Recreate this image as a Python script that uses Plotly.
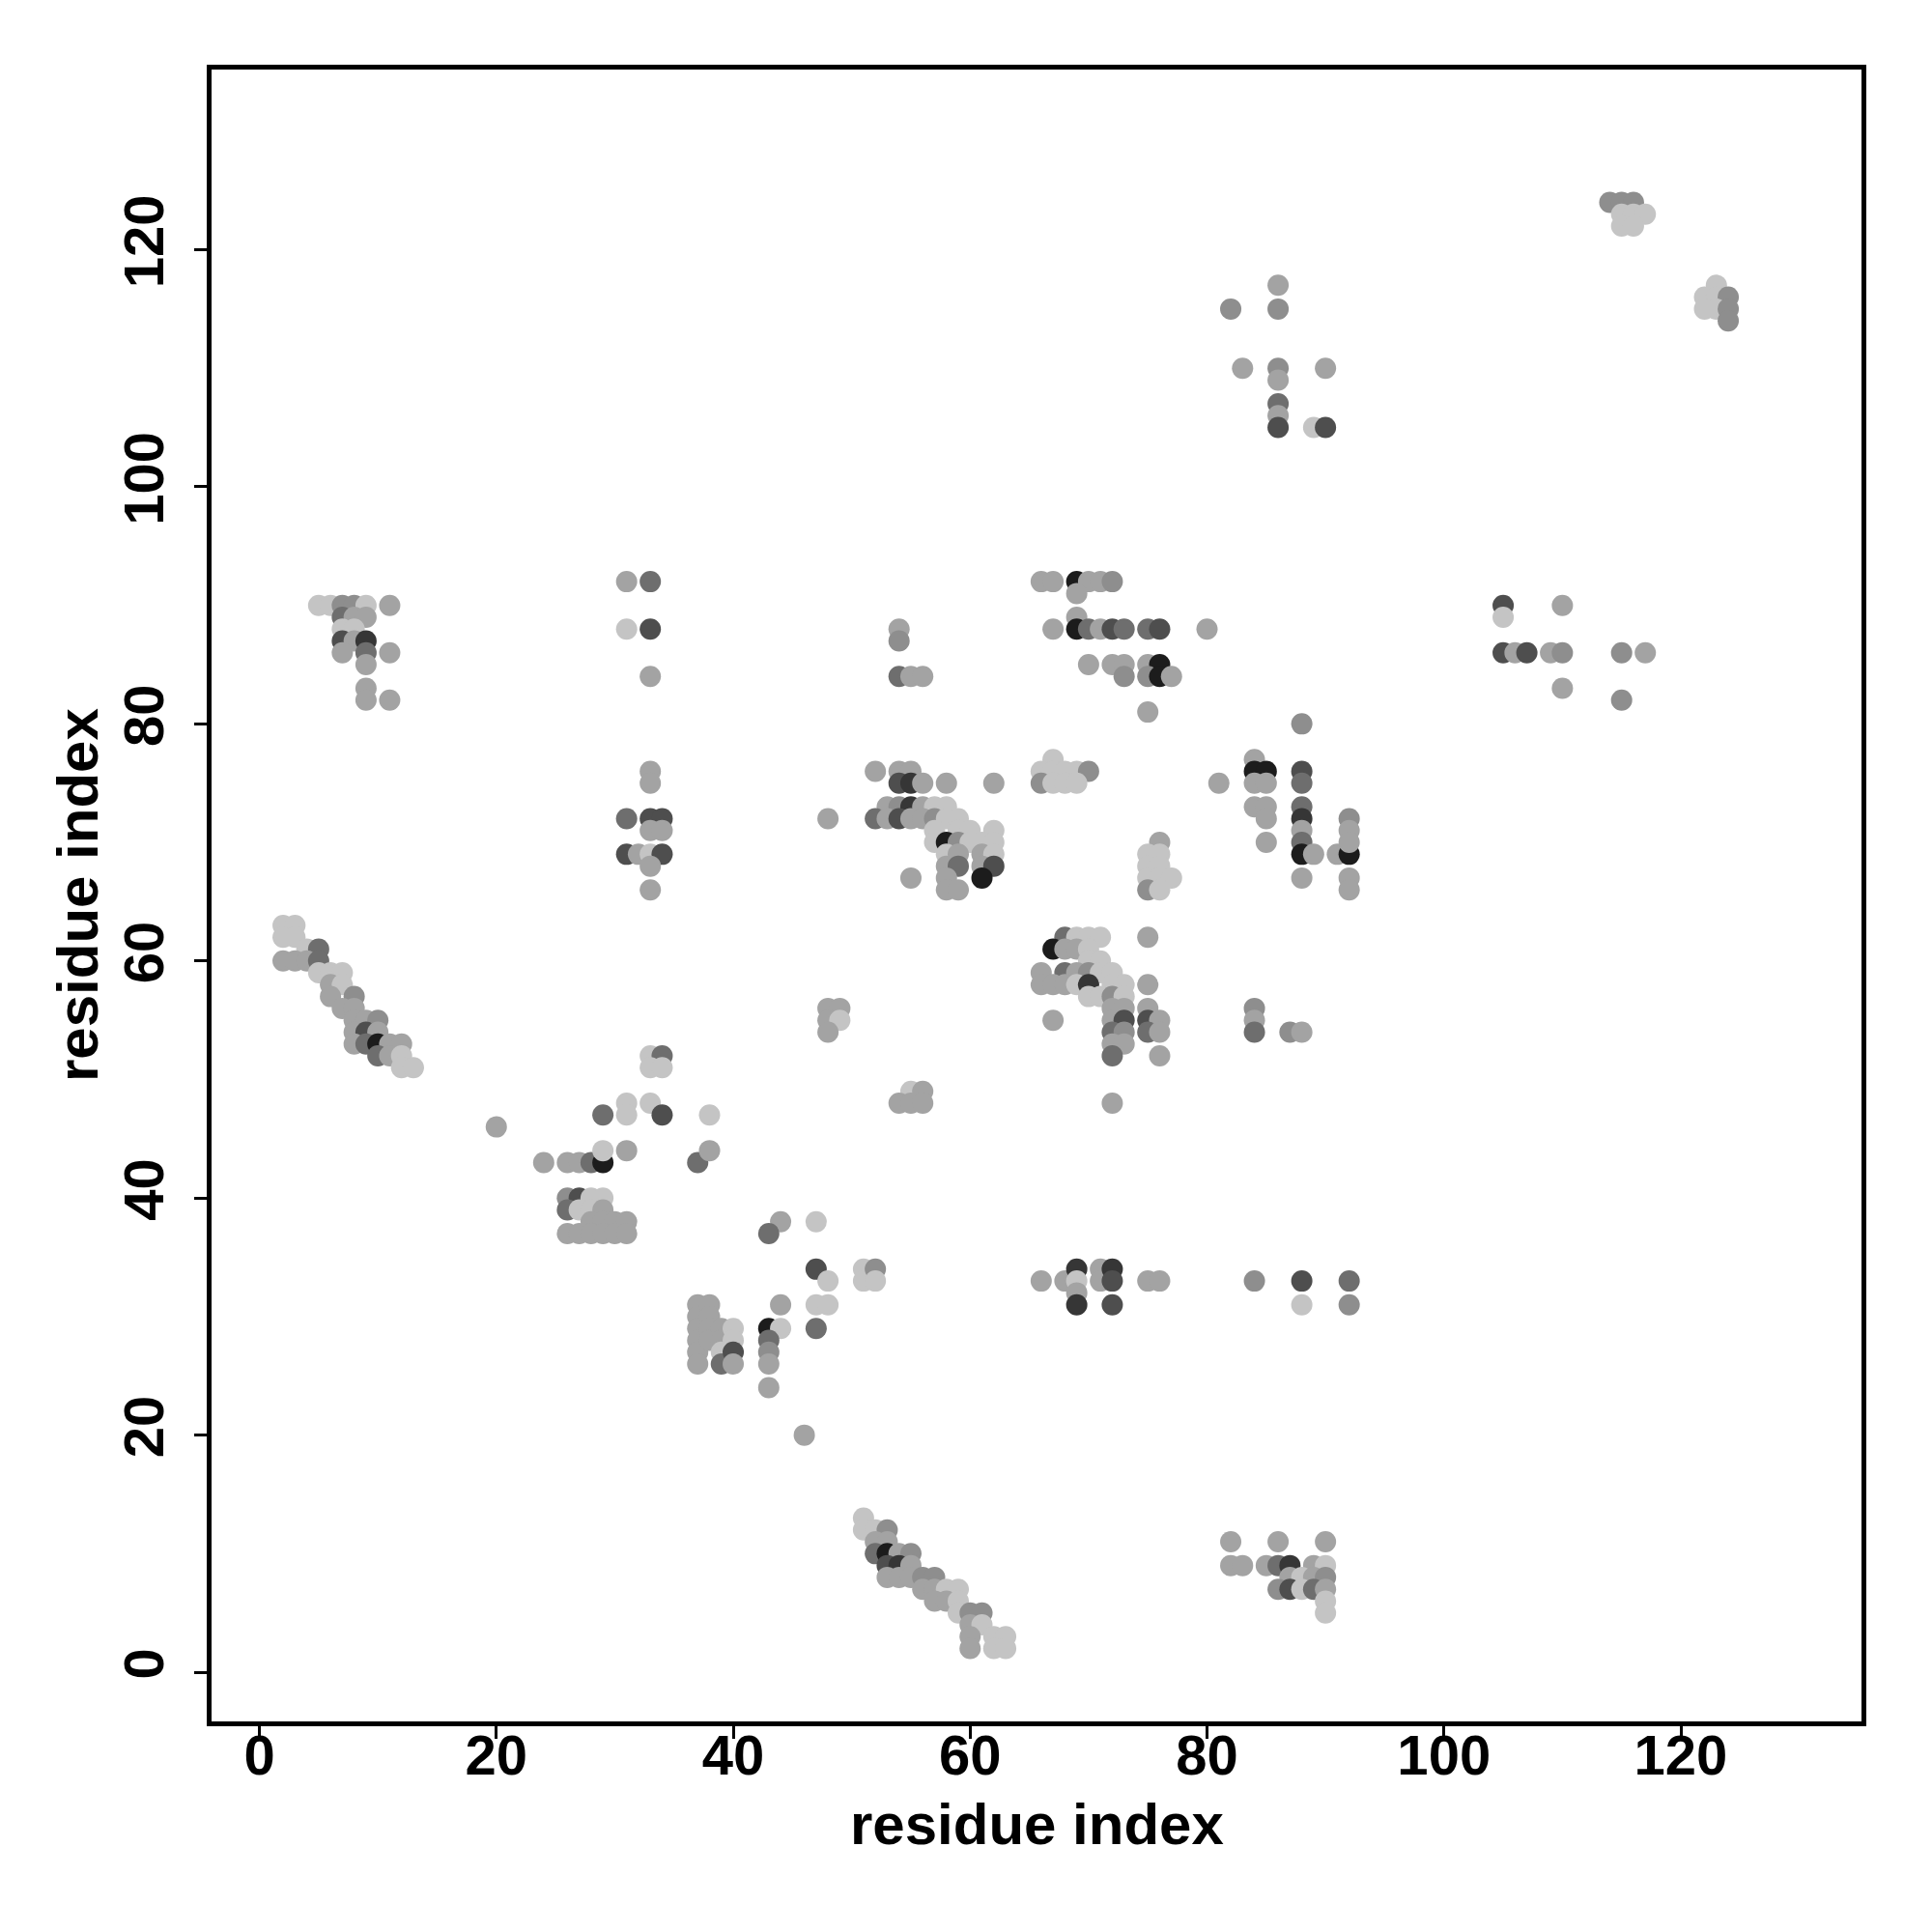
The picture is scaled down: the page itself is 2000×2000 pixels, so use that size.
import plotly.graph_objects as go

# ---------------- data ----------------
tick_values = [0, 20, 40, 60, 80, 100, 120]
axis_title = "residue index"

# shade code -> grey colour
shade_colors = {
    "L": "#c4c4c4", "M": "#a3a3a3", "N": "#8e8e8e", "D": "#6e6e6e",
    "E": "#4e4e4e", "F": "#363636", "B": "#1c1c1c",
}

# (residue i, residue j, shade)
cluster_a = [(5,90,"L"),(6,90,"L"),(7,90,"N"),(8,90,"N"),(9,90,"L"),(11,90,"M"),
             (7,89,"D"),(8,89,"M"),(9,89,"M"),(7,88,"L"),(8,88,"L"),
             (7,87,"E"),(8,87,"M"),(9,87,"F"),(7,86,"M"),(9,86,"D"),(11,86,"M"),
             (9,85,"M"),(9,83,"M"),(9,82,"M"),(11,82,"M")]

cluster_b = [(2,63,"L"),(3,63,"L"),(2,62,"L"),(3,62,"L"),(4,61,"L"),(5,61,"D"),
             (2,60,"M"),(3,60,"M"),(4,60,"M"),(5,60,"D"),(5,59,"L"),(6,59,"L"),(7,59,"L"),
             (6,58,"M"),(7,58,"L"),(6,57,"M"),(8,57,"N"),(7,56,"M"),(8,56,"M"),
             (8,55,"M"),(9,55,"M"),(10,55,"N"),(8,54,"M"),(9,54,"E"),(10,54,"M"),
             (8,53,"M"),(9,53,"D"),(10,53,"B"),(11,53,"M"),(12,53,"M"),
             (10,52,"D"),(11,52,"M"),(12,52,"L"),(12,51,"L"),(13,51,"L")]

cluster_c = [(20,46,"M"),(29,47,"D"),(31,48,"L"),(31,47,"L"),(33,48,"L"),(34,47,"E"),(38,47,"L"),
             (33,52,"L"),(34,52,"D"),(33,51,"L"),(34,51,"L"),
             (24,43,"M"),(26,43,"M"),(27,43,"M"),(28,43,"D"),(29,43,"B"),(29,44,"L"),(31,44,"M"),
             (37,43,"D"),(38,44,"M"),
             (26,40,"N"),(27,40,"E"),(28,40,"L"),(29,40,"L"),
             (26,39,"D"),(27,39,"L"),(28,39,"L"),(29,39,"M"),
             (28,38,"M"),(29,38,"M"),(30,38,"M"),(31,38,"M"),
             (26,37,"M"),(27,37,"M"),(28,37,"M"),(29,37,"M"),(30,37,"M"),(31,37,"M"),
             (44,38,"M"),(43,37,"D"),(47,38,"L"),
             (47,34,"E"),(48,33,"L"),(51,34,"L"),(51,33,"L"),(52,34,"N"),(52,33,"L"),
             (44,31,"M"),(47,31,"L"),(48,31,"L"),(43,29,"B"),(44,29,"L"),(47,29,"D"),
             (43,28,"D"),(43,27,"N"),(43,26,"M"),(43,24,"M"),(46,20,"M"),
             (37,31,"M"),(37,30,"M"),(37,29,"M"),(37,28,"M"),(37,27,"M"),(37,26,"M"),
             (38,31,"M"),(38,30,"M"),(38,29,"M"),(38,28,"M"),
             (39,29,"M"),(39,28,"M"),(39,27,"L"),(39,26,"D"),
             (40,29,"L"),(40,28,"L"),(40,27,"E"),(40,26,"M")]

cluster_d = [(31,92,"M"),(33,92,"D"),(31,88,"L"),(33,88,"E"),(33,84,"M"),
             (33,76,"M"),(33,75,"M"),(31,72,"D"),(33,72,"E"),(34,72,"E"),(33,71,"M"),(34,71,"M"),
             (31,69,"E"),(32,69,"M"),(33,69,"L"),(34,69,"E"),(33,68,"M"),(33,66,"M")]

cluster_e = [(51,13,"L"),(51,12,"L"),(52,12,"L"),(53,12,"N"),(52,11,"M"),(53,11,"M"),
             (52,10,"D"),(53,10,"B"),(54,10,"M"),(55,10,"N"),(53,9,"E"),(54,9,"F"),(55,9,"M"),
             (53,8,"M"),(54,8,"M"),(55,8,"M"),(56,8,"N"),(57,8,"N"),
             (56,7,"M"),(57,7,"M"),(58,7,"L"),(59,7,"L"),(57,6,"M"),(58,6,"M"),(59,6,"L"),
             (59,5,"L"),(60,5,"N"),(61,5,"N"),(60,4,"M"),(61,4,"L"),
             (60,3,"M"),(62,3,"L"),(63,3,"L"),(60,2,"M"),(62,2,"L"),(63,2,"L")]

cluster_f = [(54,88,"M"),(54,87,"N"),(54,84,"D"),(55,84,"M"),(56,84,"M"),
             (52,76,"M"),(54,76,"M"),(55,76,"M"),
             (54,75,"E"),(55,75,"F"),(56,75,"M"),(58,75,"M"),(62,75,"M"),
             (53,73,"M"),(54,73,"N"),(55,73,"F"),(56,73,"M"),(57,73,"L"),(58,73,"L"),
             (52,72,"D"),(53,72,"M"),(54,72,"E"),(55,72,"M"),(56,72,"M"),(57,72,"N"),(58,72,"L"),(59,72,"L"),
             (48,72,"M"),(57,71,"L"),(59,71,"L"),(60,71,"L"),(62,71,"L"),
             (57,70,"L"),(58,70,"B"),(59,70,"N"),(60,70,"L"),(61,70,"L"),(62,70,"L"),
             (58,69,"L"),(59,69,"M"),(61,69,"M"),(62,69,"L"),
             (58,68,"M"),(59,68,"D"),(61,68,"M"),(62,68,"E"),
             (55,67,"M"),(58,67,"M"),(61,67,"B"),(58,66,"M"),(59,66,"M"),
             (48,56,"M"),(49,56,"M"),(48,55,"M"),(49,55,"L"),(48,54,"M"),
             (55,49,"L"),(56,49,"M"),(54,48,"M"),(55,48,"M"),(56,48,"M")]

cluster_g = [(66,92,"M"),(67,92,"M"),(69,92,"B"),(70,92,"M"),(71,92,"M"),(72,92,"N"),
             (69,91,"M"),(69,89,"M"),
             (67,88,"M"),(69,88,"B"),(70,88,"D"),(71,88,"M"),(72,88,"E"),(73,88,"D"),
             (75,88,"D"),(76,88,"E"),(80,88,"M"),
             (70,85,"M"),(72,85,"M"),(73,85,"M"),(75,85,"M"),(76,85,"B"),
             (73,84,"N"),(75,84,"N"),(76,84,"B"),(77,84,"M"),(75,81,"M"),
             (67,77,"L"),(66,76,"L"),(67,76,"L"),(68,76,"L"),(69,76,"L"),(70,76,"N"),
             (66,75,"N"),(67,75,"L"),(68,75,"L"),(69,75,"L"),(81,75,"M"),
             (76,70,"M"),(75,69,"L"),(76,69,"L"),(75,68,"L"),(76,68,"L"),
             (75,67,"L"),(76,67,"L"),(77,67,"L"),(75,66,"N"),(76,66,"L"),
             (68,62,"D"),(69,62,"L"),(70,62,"L"),(71,62,"L"),(75,62,"M"),
             (67,61,"B"),(68,61,"M"),(69,61,"M"),(70,61,"L"),(70,60,"L"),(71,60,"L"),
             (66,59,"M"),(68,59,"D"),(69,59,"M"),(70,59,"N"),(71,59,"L"),(72,59,"L"),
             (66,58,"M"),(67,58,"M"),(68,58,"M"),(69,58,"L"),(70,58,"F"),(72,58,"L"),(73,58,"L"),(75,58,"M"),
             (70,57,"L"),(71,57,"L"),(72,57,"N"),(73,57,"L"),
             (72,56,"M"),(73,56,"M"),(75,56,"M"),
             (67,55,"M"),(72,55,"M"),(73,55,"E"),(75,55,"E"),(76,55,"M"),
             (72,54,"D"),(73,54,"N"),(75,54,"D"),(76,54,"M"),
             (72,53,"M"),(73,53,"M"),(72,52,"D"),(76,52,"M"),(72,48,"M")]

cluster_h = [(66,33,"M"),(68,33,"M"),(69,34,"F"),(69,33,"L"),(69,32,"M"),(69,31,"F"),
             (71,34,"M"),(71,33,"M"),(72,34,"F"),(72,33,"E"),(72,31,"E"),(75,33,"M"),(76,33,"M"),
             (84,33,"N"),(88,33,"E"),(88,31,"L"),(92,33,"D"),(92,31,"N")]

cluster_i = [(88,80,"N"),(84,77,"M"),(84,76,"B"),(85,76,"B"),(84,75,"M"),(85,75,"M"),
             (88,76,"E"),(88,75,"D"),(84,73,"M"),(85,73,"M"),(85,72,"M"),(85,70,"M"),
             (88,73,"D"),(88,72,"F"),(88,71,"M"),(88,70,"D"),(88,69,"B"),(89,69,"M"),(88,67,"M"),
             (91,69,"M"),(92,69,"B"),(92,72,"N"),(92,71,"M"),(92,70,"M"),(92,67,"M"),(92,66,"M"),
             (84,56,"N"),(84,55,"M"),(84,54,"D"),(87,54,"N"),(88,54,"M")]

cluster_j = [(82,11,"M"),(86,11,"M"),(90,11,"M"),
             (82,9,"M"),(83,9,"M"),(85,9,"M"),(86,9,"D"),(87,9,"F"),(89,9,"M"),(90,9,"L"),
             (87,8,"M"),(88,8,"L"),(89,8,"M"),(90,8,"N"),
             (86,7,"N"),(87,7,"E"),(88,7,"L"),(89,7,"D"),(90,7,"M"),(90,6,"L"),(90,5,"L")]

cluster_k = [(86,117,"M"),(82,115,"N"),(86,115,"N"),(83,110,"M"),(86,110,"N"),(90,110,"M"),
             (86,109,"M"),(86,107,"D"),(86,106,"M"),(86,105,"E"),(89,105,"L"),(90,105,"E")]

cluster_l = [(114,124,"N"),(115,124,"N"),(116,124,"N"),(115,123,"L"),(116,123,"L"),(117,123,"L"),
             (115,122,"L"),(116,122,"L"),
             (123,117,"L"),(122,116,"L"),(123,116,"L"),(124,116,"N"),(122,115,"L"),(123,115,"L"),
             (124,115,"N"),(124,114,"N"),
             (105,90,"E"),(105,89,"L"),(110,90,"M"),
             (105,86,"E"),(106,86,"M"),(107,86,"E"),(109,86,"M"),(110,86,"N"),(110,83,"M"),
             (115,86,"N"),(117,86,"M"),(115,82,"N")]

clusters = [cluster_a, cluster_b, cluster_c, cluster_d, cluster_e, cluster_f,
            cluster_g, cluster_h, cluster_i, cluster_j, cluster_k, cluster_l]

# ---------------- figure ----------------
xs, ys, cs = [], [], []
for cl in clusters:
    for (i, j, s) in cl:
        xs.append(i)
        ys.append(j)
        cs.append(shade_colors[s])

fig = go.Figure(go.Scatter(
    x=xs, y=ys, mode="markers",
    marker=dict(size=22, color=cs, line=dict(width=0)),
    hoverinfo="skip", showlegend=False,
))

font_family = "Liberation Sans, Arial, Helvetica, sans-serif"
axis_common = dict(
    showgrid=False, zeroline=False, showline=True, linecolor="black", linewidth=5,
    mirror=True, ticks="outside", ticklen=13, tickwidth=3, tickcolor="black",
    tickvals=tick_values, ticktext=[str(v) for v in tick_values],
    tickfont=dict(family=font_family, size=58, color="black", weight="bold"),
)

fig.update_layout(
    width=2000, height=2000,
    margin=dict(l=211, r=81, t=64, b=226, autoexpand=False),
    plot_bgcolor="white", paper_bgcolor="white",
    font=dict(family=font_family, color="black"),
    xaxis=dict(range=[-4.04, 135.25], ticklabelstandoff=-33, **axis_common),
    yaxis=dict(range=[-4.15, 135.2], tickangle=-90, ticklabelstandoff=9, **axis_common),
    annotations=[
        dict(text=axis_title, xref="paper", yref="paper", x=0.5, y=0,
             xanchor="center", yanchor="middle", yshift=-106, showarrow=False,
             font=dict(family=font_family, size=60, color="black", weight="bold")),
        dict(text=axis_title, xref="paper", yref="paper", x=0, y=0.5,
             xanchor="center", yanchor="middle", xshift=-139, textangle=-90, showarrow=False,
             font=dict(family=font_family, size=60, color="black", weight="bold")),
    ],
)

fig.write_html("out.html")
